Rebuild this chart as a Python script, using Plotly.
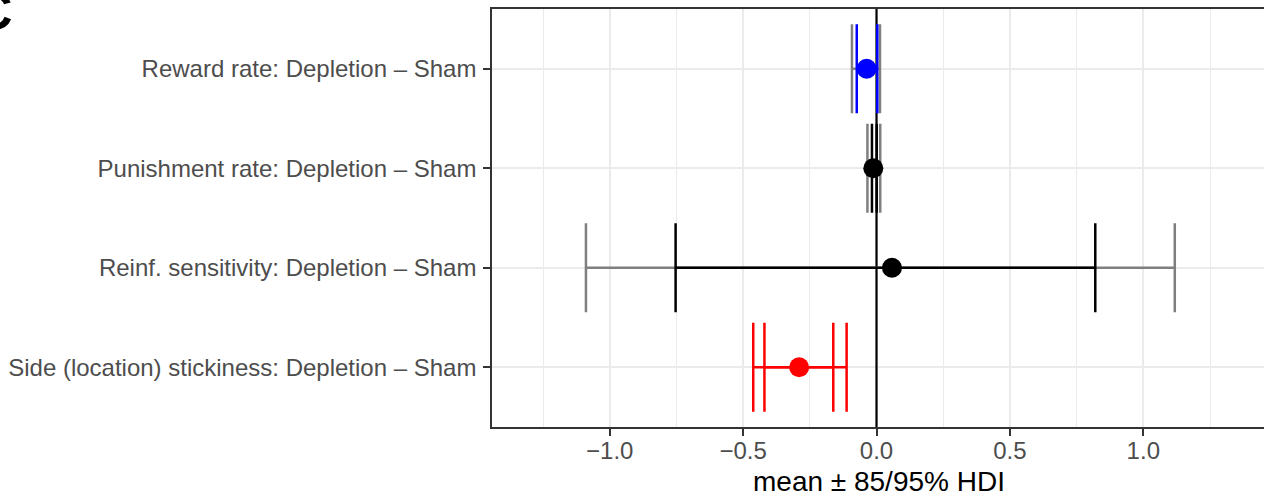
import plotly.graph_objects as go

categories = [
    "Reward rate: Depletion – Sham",
    "Punishment rate: Depletion – Sham",
    "Reinf. sensitivity: Depletion – Sham",
    "Side (location) stickiness: Depletion – Sham",
]
means = [-0.037, -0.012, 0.058, -0.290]
hdi95_lo = [-0.092, -0.034, -1.089, -0.462]
hdi95_hi = [0.013, 0.014, 1.118, -0.112]
hdi85_lo = [-0.074, -0.017, -0.753, -0.420]
hdi85_hi = [0.003, 0.001, 0.820, -0.162]
colors95 = ["#7F7F7F", "#7F7F7F", "#7F7F7F", "#FF0000"]
colors85 = ["#0000FF", "#000000", "#000000", "#FF0000"]
point_colors = ["#0000FF", "#000000", "#000000", "#FF0000"]
x_tickvals = [-1.0, -0.5, 0.0, 0.5, 1.0]
x_ticktext = ["\u22121.0", "\u22120.5", "0.0", "0.5", "1.0"]
x_title = "mean \u00b1 85/95% HDI"
panel_label = "C"
ref_x = [0.0, 0.0]

W, H = 1264, 497
ML, MR, MT, MB = 492, 0, 9, 70
PW, PH = W - ML - MR, H - MT - MB
FONT = "Liberation Sans, Arial, Helvetica, sans-serif"

fig = go.Figure()

ypos = list(range(len(categories)))
y_range = [len(categories) - 0.4, -0.6]

# zero reference line (under the interval bars)
fig.add_trace(go.Scatter(
    x=ref_x, y=y_range, mode="lines",
    line=dict(color="#000000", width=2.2),
    showlegend=False, hoverinfo="skip"))

# 95% HDI bars
for i in ypos:
    fig.add_trace(go.Scatter(
        x=[means[i]], y=[i], mode="markers",
        marker=dict(size=1, color="rgba(0,0,0,0)"),
        error_x=dict(type="data", symmetric=False,
                     array=[hdi95_hi[i] - means[i]],
                     arrayminus=[means[i] - hdi95_lo[i]],
                     color=colors95[i], thickness=2.5, width=44.5),
        showlegend=False, hoverinfo="skip"))
# 85% HDI bars
for i in ypos:
    fig.add_trace(go.Scatter(
        x=[means[i]], y=[i], mode="markers",
        marker=dict(size=1, color="rgba(0,0,0,0)"),
        error_x=dict(type="data", symmetric=False,
                     array=[hdi85_hi[i] - means[i]],
                     arrayminus=[means[i] - hdi85_lo[i]],
                     color=colors85[i], thickness=2.5, width=44.5),
        showlegend=False, hoverinfo="skip"))
# means
fig.add_trace(go.Scatter(
    x=means, y=ypos, mode="markers",
    marker=dict(size=20, color=point_colors, line=dict(width=0)),
    showlegend=False))

px_per_unit = 266.8
x0_px = 876.5 - ML
x_range = [-x0_px / px_per_unit, (PW - x0_px) / px_per_unit]

fig.update_layout(
    width=W, height=H,
    margin=dict(l=ML, r=MR, t=MT, b=MB, pad=0, autoexpand=False),
    paper_bgcolor="white", plot_bgcolor="white",
    font=dict(family=FONT, color="#4D4D4D", size=24),
    xaxis=dict(
        range=x_range, tickvals=x_tickvals, ticktext=x_ticktext,
        automargin=False,
        showgrid=True, gridcolor="#EBEBEB", gridwidth=1.6,
        minor=dict(dtick=0.25, tick0=0, showgrid=True, gridcolor="#EBEBEB", gridwidth=0.8, ticks=""),
        zeroline=False,
        showline=True, linecolor="#333333", linewidth=1.5, mirror=True,
        ticks="outside", ticklen=7, tickwidth=1.5, tickcolor="#333333",
        ticklabelstandoff=-6,
        tickfont=dict(family=FONT, size=24, color="#4D4D4D"),
    ),
    yaxis=dict(
        range=y_range, tickvals=ypos, ticktext=categories,
        automargin=False,
        showgrid=True, gridcolor="#EBEBEB", gridwidth=1.6,
        zeroline=False,
        showline=True, linecolor="#333333", linewidth=1.5, mirror=False,
        ticks="outside", ticklen=7, tickwidth=1.5, tickcolor="#333333",
        ticklabelstandoff=2,
        tickfont=dict(family=FONT, size=24, color="#4D4D4D"),
    ),
)

# x-axis title
fig.add_annotation(
    text=x_title, xref="paper", yref="paper",
    x=(879 - ML) / PW, y=-(481 - (MT + PH)) / PH,
    xanchor="center", yanchor="middle", showarrow=False,
    font=dict(family=FONT, size=28, color="#000000"))

# panel label (partially cut off at the top-left corner)
fig.add_annotation(
    text="<b>%s</b>" % panel_label, xref="paper", yref="paper",
    x=(15 - ML) / PW, y=1 - (11.5 - MT) / PH,
    xanchor="right", yanchor="middle", showarrow=False,
    font=dict(family=FONT, size=52, color="#000000"))

fig.write_html(
    "out.html",
    config={"responsive": False, "displayModeBar": False},
    post_script="document.body.style.margin='0';document.body.style.padding='0';"
                "document.body.style.overflow='hidden';",
)
